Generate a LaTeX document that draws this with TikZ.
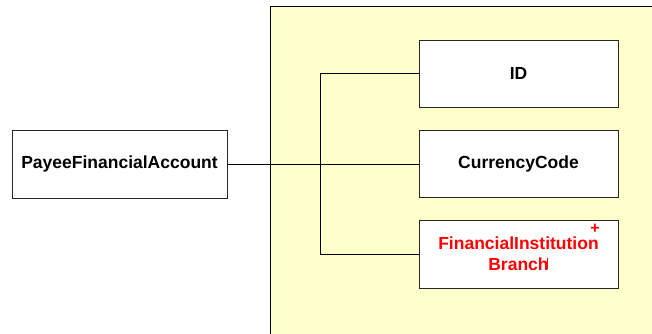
\documentclass[tikz,border=0pt]{standalone}
\usepackage{fontspec}
\setmainfont{Liberation Sans}
\usepackage{xcolor}
\definecolor{panelyellow}{HTML}{FFFFCC}
\definecolor{attrred}{HTML}{FF0000}
\tikzset{
  attrbox/.style={draw=black!85,fill=white,line width=0.9pt,minimum width=199pt,
    minimum height=67pt,font=\bfseries\fontsize{17.5}{21}\selectfont,align=center,inner sep=0pt},
  link/.style={draw=black,line width=0.8pt}
}
\begin{document}
\begin{tikzpicture}[x=1pt,y=-1pt,line cap=rect]
\useasboundingbox (0,0) rectangle (652,333);
% panel
\fill[panelyellow] (270,6) rectangle (660,340);
\draw[line width=0.9pt] (270,340) -- (270,6) -- (660,6);
% boxes
\node[attrbox,minimum width=215pt,minimum height=68pt] (payee) at (119.5,164) {PayeeFinancialAccount};
\node[attrbox] (id) at (518.5,73.5) {ID};
\node[attrbox] (cc) at (518.5,164) {CurrencyCode};
\node[attrbox,minimum height=68pt,text=attrred] (fib) at (518.5,254) {FinancialInstitution\\Branch};
\node[text=attrred,font=\bfseries\fontsize{16}{16}\selectfont,inner sep=0pt] (plus) at (595,228.5) {+};
\draw[attrred,line width=0.8pt] (547,258) -- (547,269);
% connectors
\coordinate (bustop) at (320,73.5);
\coordinate (busbot) at (320,254);
\draw[link] (payee.east) -- (cc.west);
\draw[link] (id.west) -- (bustop) -- (busbot) -- (fib.west);
\end{tikzpicture}
\end{document}
